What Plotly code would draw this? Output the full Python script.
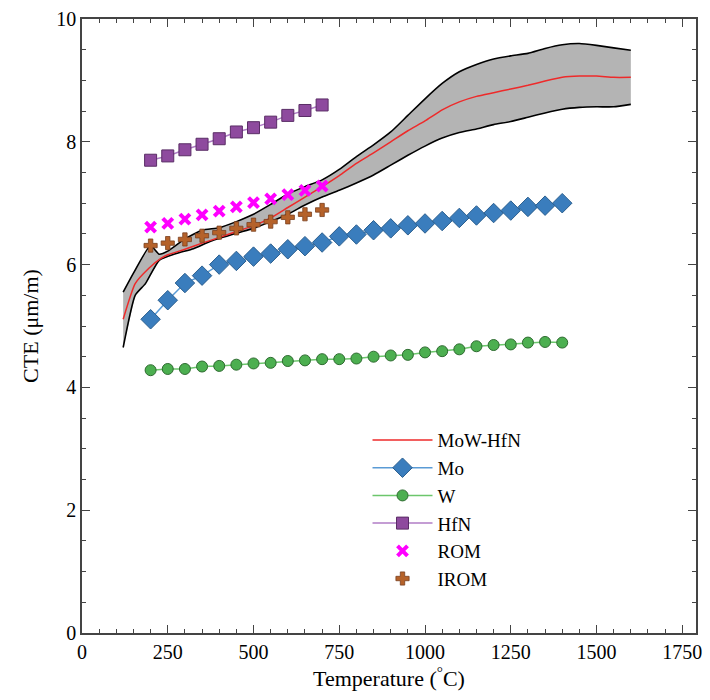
import plotly.graph_objects as go

# --- data ---
pts_T = [200, 250, 300, 350, 400, 450, 500, 550, 600, 650, 700]
hfn = [7.70, 7.77, 7.87, 7.96, 8.05, 8.16, 8.23, 8.32, 8.43, 8.51, 8.60]
rom = [6.61, 6.67, 6.74, 6.81, 6.87, 6.94, 7.01, 7.07, 7.14, 7.21, 7.28]
irom = [6.31, 6.35, 6.41, 6.47, 6.52, 6.59, 6.65, 6.70, 6.77, 6.82, 6.89]

mw_T = [200, 250, 300, 350, 400, 450, 500, 550, 600, 650, 700, 750, 800,
        850, 900, 950, 1000, 1050, 1100, 1150, 1200, 1250, 1300, 1350, 1400]
mo = [5.11, 5.42, 5.70, 5.82, 6.00, 6.06, 6.13, 6.18, 6.25, 6.30, 6.36, 6.46, 6.49,
      6.56, 6.59, 6.64, 6.67, 6.71, 6.76, 6.80, 6.84, 6.88, 6.94, 6.96, 7.00]
w = [4.28, 4.30, 4.30, 4.34, 4.35, 4.37, 4.39, 4.40, 4.43, 4.44, 4.46, 4.46, 4.47,
     4.50, 4.52, 4.53, 4.57, 4.59, 4.62, 4.67, 4.69, 4.70, 4.73, 4.74, 4.73]

up_T = [120, 150, 200, 225, 250, 300, 350, 400, 450, 500, 550, 600, 650, 700, 750,
        800, 850, 900, 950, 1000, 1050, 1100, 1150, 1200, 1250, 1300, 1350, 1400,
        1450, 1500, 1550, 1600]
upper = [5.55, 5.86, 6.31, 6.17, 6.22, 6.42, 6.56, 6.60, 6.70, 6.82, 6.98, 7.15, 7.27,
         7.38, 7.55, 7.76, 7.95, 8.16, 8.43, 8.70, 8.95, 9.14, 9.26, 9.35, 9.40, 9.44,
         9.52, 9.58, 9.60, 9.57, 9.53, 9.49]

lo_T = [120, 155, 185, 225, 275, 325, 375, 450, 500, 550, 600, 650, 700, 750, 800,
        850, 900, 950, 1000, 1050, 1100, 1150, 1200, 1250, 1300, 1350, 1400, 1450,
        1500, 1550, 1600]
lower = [4.65, 5.50, 5.69, 6.07, 6.18, 6.26, 6.38, 6.51, 6.59, 6.70, 6.82, 6.97, 7.10,
         7.21, 7.33, 7.46, 7.62, 7.78, 7.93, 8.06, 8.15, 8.21, 8.28, 8.33, 8.40, 8.47,
         8.53, 8.56, 8.57, 8.57, 8.61]

mean_T = [120, 155, 195, 230, 250, 300, 350, 400, 450, 500, 550, 600, 650, 700, 750,
          800, 850, 900, 950, 1000, 1050, 1100, 1150, 1200, 1250, 1300, 1350, 1400,
          1450, 1500, 1550, 1600]
mean = [5.11, 5.69, 5.94, 6.10, 6.16, 6.25, 6.35, 6.44, 6.54, 6.63, 6.76, 6.93, 7.10,
        7.27, 7.45, 7.65, 7.82, 8.00, 8.18, 8.34, 8.52, 8.65, 8.74, 8.80, 8.86, 8.92,
        8.99, 9.05, 9.07, 9.07, 9.05, 9.05]

FONT = "Times New Roman, Liberation Serif, serif"

fig = go.Figure()

# band fill
fig.add_trace(go.Scatter(
    x=up_T + lo_T[::-1], y=upper + lower[::-1], fill="toself",
    fillcolor="#b4b4b4", line=dict(width=0), mode="lines",
    showlegend=False, hoverinfo="skip"))
fig.add_trace(go.Scatter(x=up_T, y=upper, mode="lines",
                         line=dict(color="black", width=1.6, shape="spline", smoothing=0.5),
                         showlegend=False))
fig.add_trace(go.Scatter(x=lo_T, y=lower, mode="lines",
                         line=dict(color="black", width=1.6, shape="spline", smoothing=0.5),
                         showlegend=False))
fig.add_trace(go.Scatter(x=mean_T, y=mean, mode="lines", name="MoW-HfN",
                         line=dict(color="#ee2a2a", width=1.5, shape="spline", smoothing=0.5)))

fig.add_trace(go.Scatter(x=mw_T, y=mo, mode="lines+markers", name="Mo",
                         line=dict(color="#5a9bd5", width=1.5),
                         marker=dict(symbol="diamond", size=15, color="#3a7dbd",
                                     line=dict(color="#2b5f8f", width=1))))
fig.add_trace(go.Scatter(x=mw_T, y=w, mode="lines+markers", name="W",
                         line=dict(color="#6cc66c", width=1.5),
                         marker=dict(symbol="circle", size=11, color="#4caf50",
                                     line=dict(color="#2e6b30", width=1))))
fig.add_trace(go.Scatter(x=pts_T, y=hfn, mode="lines+markers", name="HfN",
                         line=dict(color="#b07cc6", width=1.5),
                         marker=dict(symbol="square", size=12, color="#8e4a9e",
                                     line=dict(color="#5a2d66", width=1))))
fig.add_trace(go.Scatter(x=pts_T, y=rom, mode="markers", name="ROM",
                         marker=dict(symbol="x-thin", size=10, color="#ff00ff",
                                     line=dict(color="#ff00ff", width=4))))
fig.add_trace(go.Scatter(x=pts_T, y=irom, mode="markers", name="IROM",
                         marker=dict(symbol="cross", size=11, color="#b5622a",
                                     line=dict(color="#7a4020", width=0.8))))

axis_common = dict(
    showline=True, linecolor="#444444", linewidth=1.5, mirror="allticks",
    ticks="inside", ticklen=8, tickcolor="#444444", tickwidth=1,
    showgrid=False, zeroline=False,
    tickfont=dict(family=FONT, size=20, color="black"),
)

fig.update_xaxes(range=[0, 1790], dtick=250, tick0=0,
                 minor=dict(dtick=50, ticks="inside", ticklen=4, tickcolor="#444444"),
                 title=dict(text="Temperature (<sup>°</sup>C)",
                            font=dict(family=FONT, size=22, color="black"), standoff=8),
                 **axis_common)
fig.update_yaxes(range=[0, 10], dtick=2, tick0=0,
                 minor=dict(dtick=0.5, ticks="inside", ticklen=4, tickcolor="#444444"),
                 title=dict(text="CTE (μm/m)",
                            font=dict(family=FONT, size=22, color="black"), standoff=12),
                 **axis_common)

fig.update_layout(
    width=710, height=700,
    margin=dict(l=82, r=8, t=13, b=67),
    plot_bgcolor="white", paper_bgcolor="white",
    font=dict(family=FONT, size=20, color="black"),
    legend=dict(x=0.465, y=0.345, xanchor="left", yanchor="top",
                bgcolor="rgba(0,0,0,0)", borderwidth=0,
                font=dict(family=FONT, size=19, color="black"),
                itemwidth=60, tracegroupgap=0),
)

fig.write_html("out.html")
